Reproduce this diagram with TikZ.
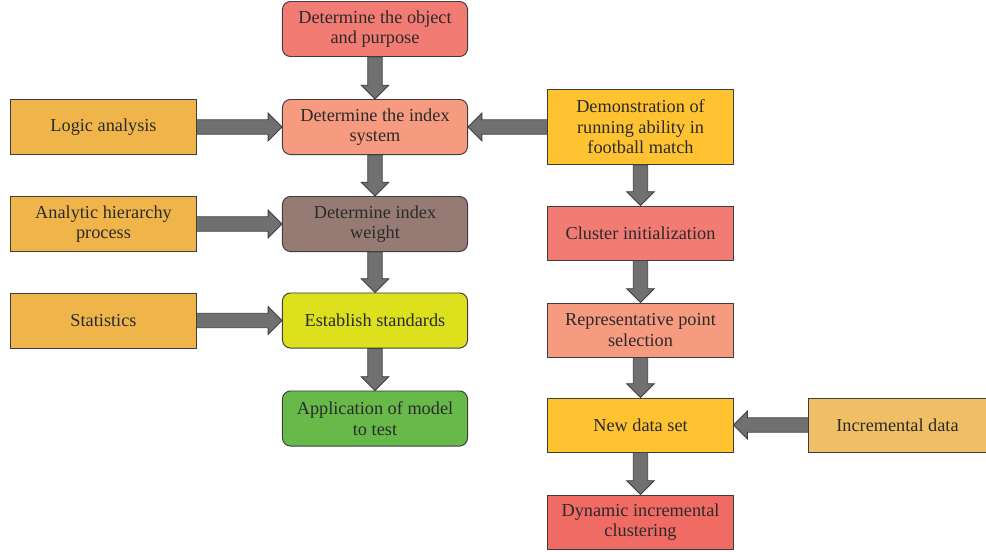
\documentclass[tikz,border=0pt]{standalone}
\usepackage{fontspec}
\setmainfont{Liberation Serif}
\usepackage{xcolor}
\usepackage{tikz}
\usetikzlibrary{arrows.meta, positioning, shapes.arrows, calc}
\definecolor{textdark}{HTML}{2B2B2B}
\definecolor{edge}{HTML}{3E3E3E}
\definecolor{arrowfill}{HTML}{6F706F}
\definecolor{salmon}{HTML}{F27B73}
\definecolor{peach}{HTML}{F69A80}
\definecolor{mauve}{HTML}{967A74}
\definecolor{lime}{HTML}{DDE01C}
\definecolor{leaf}{HTML}{67B94A}
\definecolor{amber}{HTML}{F0B54A}
\definecolor{sun}{HTML}{FFC231}
\definecolor{coral}{HTML}{F06B63}
\definecolor{sand}{HTML}{F0BE64}

\begin{document}
\begin{tikzpicture}[
    x=0.025cm, y=-0.025cm,
    box/.style={rectangle, draw=edge, line width=0.7pt, align=center, text=textdark, minimum width=4.625cm, minimum height=1.375cm, inner sep=2pt, font=\rmfamily\fontsize{13}{14.5}\selectfont},
    stepbox/.style={box, rounded corners=0.2cm},
    sidebox/.style={box},
    fat/.style={to path={let \p1=(\tikztostart), \p2=(\tikztotarget), \n1={veclen(\x2-\x1,\y2-\y1)}, \n2={atan2(\y2-\y1,\x2-\x1)} in node[single arrow, draw=edge, fill=arrowfill, line width=0.6pt, inner xsep=0pt, inner ysep=0.17cm, outer sep=0pt, single arrow head extend=0.165cm, single arrow tip angle=90, single arrow head indent=0pt, minimum height=\n1, rotate=\n2, anchor=tail] at (\p1) {}}}
]
\useasboundingbox (0,0) rectangle (986,552);

% middle column
\node[stepbox, fill=salmon] (object) at (375,29) {Determine the object\\and purpose};
\node[stepbox, fill=peach] (system) at (375,127) {Determine the index\\system};
\node[stepbox, fill=mauve] (weight) at (375,224) {Determine index\\weight};
\node[stepbox, fill=lime] (standards) at (375,320.5) {Establish standards};
\node[stepbox, fill=leaf] (application) at (375,418.5) {Application of model\\to test};

% methods on the left
\node[sidebox, fill=amber] (logic) at (103.5,127) {Logic analysis};
\node[sidebox, fill=amber] (ahp) at (103.5,224) {Analytic hierarchy\\process};
\node[sidebox, fill=amber] (stats) at (103.5,320.5) {Statistics};

% clustering column
\node[sidebox, fill=sun, minimum height=1.875cm] (demo) at (640.5,127) {Demonstration of\\running ability in\\football match};
\node[sidebox, fill=salmon, minimum height=1.35cm] (init) at (640.5,233) {Cluster initialization};
\node[sidebox, fill=peach, minimum height=1.35cm] (points) at (640.5,330) {Representative point\\selection};
\node[sidebox, fill=sun, minimum height=1.35cm] (dataset) at (640.5,425) {New data set};
\node[sidebox, fill=coral, minimum height=1.35cm] (dynamic) at (640.5,522) {Dynamic incremental\\clustering};
\node[sidebox, fill=sand, minimum width=4.425cm, minimum height=1.35cm] (incremental) at (897.5,425) {Incremental data};

\draw[fat] (object.south) to (system.north);
\draw[fat] (system.south) to (weight.north);
\draw[fat] (weight.south) to (standards.north);
\draw[fat] (standards.south) to (application.north);
\draw[fat] (logic.east) to (system.west);
\draw[fat] (ahp.east) to (weight.west);
\draw[fat] (stats.east) to (standards.west);
\draw[fat] (demo.west) to (system.east);
\draw[fat] (demo.south) to (init.north);
\draw[fat] (init.south) to (points.north);
\draw[fat] (points.south) to (dataset.north);
\draw[fat] (dataset.south) to (dynamic.north);
\draw[fat] (incremental.west) to (dataset.east);
\end{tikzpicture}
\end{document}
